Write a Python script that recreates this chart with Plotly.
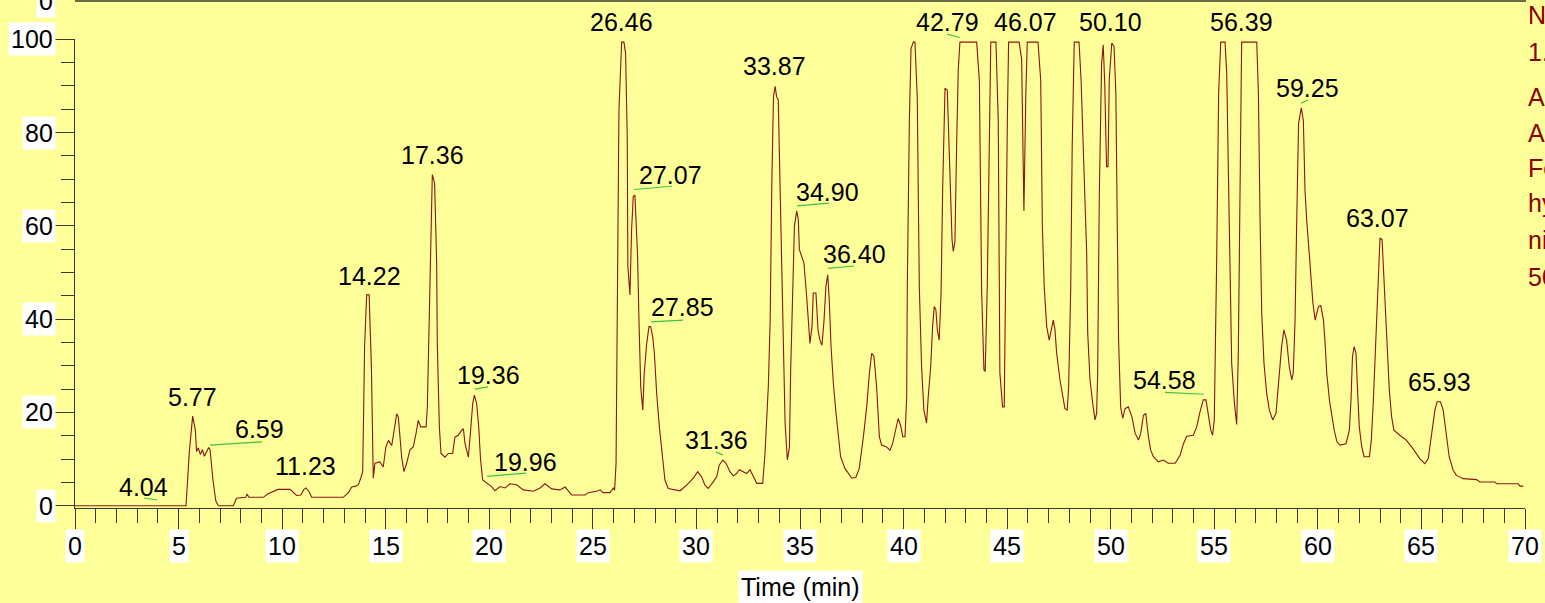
import plotly.graph_objects as go

# ---------------- data ----------------
time_min = [
    0, 5.36, 5.52, 5.68, 5.81, 5.87, 5.95, 6.05, 6.15, 6.25, 6.35, 6.45, 6.52, 6.66, 6.80, 6.92,
    7.64, 7.80, 8.25, 8.30, 8.40, 9.09, 9.30, 9.60, 9.80, 10.38, 10.55, 10.70, 10.90, 11.05, 11.15,
    11.30, 11.43, 12.95, 13.20, 13.36, 13.55, 13.68, 13.80, 13.89, 13.98, 14.08, 14.20, 14.31, 14.40,
    14.48, 14.72, 14.88, 15.01, 15.13, 15.29, 15.37, 15.53, 15.61, 15.69, 15.77, 15.88, 16.01, 16.17,
    16.33, 16.46, 16.57, 16.69, 16.95, 17.01, 17.07, 17.17, 17.25, 17.36, 17.46, 17.49, 17.59, 17.67,
    17.86, 18.02, 18.23, 18.34, 18.50, 18.67, 18.75, 18.83, 18.91, 18.99, 19.10, 19.20, 19.28, 19.39,
    19.49, 19.58, 19.68, 19.87, 20.11, 20.27, 20.52, 20.76, 21.00, 21.32, 21.64, 22.13, 22.45, 22.69,
    23.01, 23.41, 23.66, 23.98, 24.62, 24.78, 25.18, 25.35, 25.50, 25.83, 25.99, 26.05, 26.12, 26.18,
    26.26, 26.39, 26.50, 26.58, 26.66, 26.69, 26.79, 26.87, 26.95, 27.03, 27.08, 27.16, 27.23, 27.31,
    27.41, 27.48, 27.60, 27.71, 27.79, 27.89, 27.97, 28.08, 28.21, 28.32, 28.48, 28.64, 29.21, 29.53,
    29.85, 30.06, 30.25, 30.41, 30.57, 30.81, 30.98, 31.10, 31.27, 31.43, 31.62, 31.78, 31.94, 32.07,
    32.26, 32.42, 32.59, 32.75, 32.91, 33.20, 33.31, 33.47, 33.56, 33.64, 33.72, 33.80, 33.87, 33.95,
    34.04, 34.12, 34.19, 34.28, 34.39, 34.49, 34.55, 34.65, 34.73, 34.84, 34.92, 34.97, 35.08, 35.19,
    35.32, 35.40, 35.48, 35.58, 35.64, 35.77, 35.87, 35.96, 36.06, 36.16, 36.25, 36.34, 36.41, 36.50,
    36.61, 36.74, 36.85, 36.96, 37.17, 37.33, 37.50, 37.70, 37.86, 38.06, 38.22, 38.35, 38.46, 38.57,
    38.70, 38.83, 38.94, 39.18, 39.34, 39.47, 39.64, 39.74, 39.86, 39.96, 40.07, 40.15, 40.18, 40.28,
    40.36, 40.47, 40.55, 40.66, 40.76, 40.87, 40.98, 41.11, 41.19, 41.31, 41.40, 41.48, 41.56, 41.63,
    41.72, 41.81, 41.89, 42.00, 42.11, 42.19, 42.27, 42.34, 42.40, 42.48, 42.56, 42.64, 42.72, 43.53,
    43.66, 43.77, 43.88, 43.94, 44.04, 44.14, 44.21, 44.46, 44.57, 44.65, 44.78, 44.86, 44.94, 45.01,
    45.07, 45.58, 45.70, 45.75, 45.81, 45.90, 45.97, 46.49, 46.62, 46.70, 46.79, 46.91, 47.03, 47.13,
    47.23, 47.31, 47.39, 47.55, 47.68, 47.79, 47.90, 47.97, 48.07, 48.14, 48.24, 48.47, 48.57, 48.71,
    48.84, 48.89, 49.00, 49.13, 49.24, 49.32, 49.37, 49.45, 49.56, 49.64, 49.71, 49.80, 49.87, 49.93,
    50.05, 50.16, 50.25, 50.32, 50.38, 50.48, 50.58, 50.69, 50.85, 51.02, 51.18, 51.34, 51.45, 51.58,
    51.69, 51.82, 51.93, 52.06, 52.30, 52.54, 52.78, 53.11, 53.35, 53.51, 53.67, 53.99, 54.15, 54.31,
    54.47, 54.60, 54.71, 54.83, 54.92, 55.00, 55.12, 55.21, 55.31, 55.52, 55.60, 55.68, 55.76, 55.84,
    55.97, 56.08, 56.16, 56.24, 56.32, 57.05, 57.13, 57.21, 57.29, 57.40, 57.53, 57.66, 57.82, 57.98,
    58.14, 58.25, 58.36, 58.49, 58.62, 58.74, 58.81, 58.90, 58.98, 59.07, 59.20, 59.30, 59.38, 59.46,
    59.61, 59.76, 59.87, 60.03, 60.14, 60.27, 60.35, 60.43, 60.56, 60.68, 60.79, 60.92, 61.07, 61.36,
    61.52, 61.60, 61.67, 61.75, 61.84, 61.91, 62.00, 62.12, 62.23, 62.49, 62.58, 62.68, 62.81, 62.92,
    63.00, 63.10, 63.16, 63.24, 63.35, 63.45, 63.56, 63.67, 63.96, 64.28, 64.60, 64.92, 65.16, 65.33,
    65.54, 65.65, 65.76, 65.92, 66.05, 66.18, 66.34, 66.53, 66.69, 67.02, 67.66, 67.82, 68.55, 68.63,
    69.67, 69.76, 69.92,
]
rel_abundance = [
    0, 0, 11.6, 19.2, 16.2, 11.6, 12.4, 11.0, 12.0, 10.6, 11.5, 12.5, 12.0, 5.5, 1.0, 0,
    0, 1.6, 1.8, 2.5, 1.8, 1.8, 2.5, 3.0, 3.5, 3.5, 2.8, 2.2, 2.3, 3.5, 3.8,
    3.0, 1.8, 1.8, 2.8, 4.0, 4.2, 4.5, 6.0, 7.3, 34.1, 45.2, 45.2, 29.5, 5.9,
    9.1, 9.4, 8.3, 12.6, 14.0, 12.9, 15.4, 19.7, 19.0, 15.4, 10.4, 7.3, 9.1, 12.0,
    12.6, 15.4, 18.3, 16.9, 16.9, 21.2, 35.5, 57.0, 71.0, 69.2, 52.0, 34.8, 16.9, 11.2,
    10.4, 11.2, 11.2, 14.7, 15.1, 16.2, 16.5, 13.3, 11.5, 10.4, 16.2, 21.9, 23.7, 21.9,
    16.9, 9.8, 5.5, 4.8, 4.1, 3.2, 4.1, 3.8, 4.7, 4.5, 3.4, 3.1, 3.8, 4.7,
    3.6, 3.4, 4.0, 2.3, 2.3, 2.8, 3.1, 3.4, 2.8, 2.8, 3.8, 3.3, 9.1, 42.0,
    84.9, 99.4, 99.4, 97.0, 79.2, 51.3, 45.2, 59.1, 66.3, 66.6, 61.3, 53.4, 39.1, 25.5,
    20.5, 28.4, 34.8, 38.4, 38.4, 36.2, 32.7, 24.1, 16.9, 11.9, 5.5, 3.7, 3.2, 4.4,
    5.9, 7.3, 6.2, 4.4, 3.7, 5.1, 6.2, 8.7, 9.8, 9.1, 7.3, 6.4, 6.9, 7.7,
    7.3, 6.9, 7.7, 6.2, 4.8, 4.8, 11.2, 25.5, 39.8, 69.2, 87.7, 89.9, 87.7, 87.0,
    68.4, 48.5, 31.3, 17.7, 9.8, 12.6, 29.1, 49.9, 59.9, 63.2, 61.3, 54.9, 53.4, 52.0,
    44.9, 39.8, 34.8, 38.4, 45.6, 45.6, 37.7, 35.5, 34.4, 39.8, 47.0, 49.5, 44.2, 34.1,
    26.2, 19.8, 14.8, 10.5, 8.0, 6.9, 5.9, 6.1, 8.0, 14.8, 21.2, 28.4, 32.7, 32.0,
    25.5, 14.8, 13.0, 12.6, 11.9, 13.3, 17.2, 18.7, 17.2, 14.8, 14.8, 23.3, 46.9, 82.6,
    98.0, 99.4, 99.4, 87.7, 46.9, 29.8, 20.5, 17.7, 23.3, 29.8, 38.4, 42.7, 42.0, 37.7,
    35.5, 45.6, 68.4, 89.5, 89.1, 79.2, 66.3, 57.0, 54.5, 56.6, 77.0, 93.5, 99.4, 99.4,
    91.0, 45.6, 29.1, 28.8, 46.9, 82.6, 99.4, 99.4, 82.6, 28.4, 21.2, 21.2, 59.1, 82.6,
    99.4, 99.4, 95.7, 80.6, 63.2, 87.7, 99.4, 99.4, 91.3, 59.9, 46.9, 38.4, 35.5, 37.7,
    39.8, 37.7, 32.7, 27.0, 23.3, 20.8, 20.5, 25.5, 46.9, 77.0, 99.4, 99.4, 91.3, 74.1,
    54.1, 37.0, 27.0, 22.0, 18.4, 19.8, 28.4, 66.9, 94.8, 98.8, 90.6, 72.7, 72.7, 91.3,
    99.2, 98.5, 88.4, 58.4, 35.5, 21.2, 18.7, 20.8, 21.2, 19.1, 15.5, 14.1, 15.5, 19.4,
    19.8, 14.8, 11.9, 10.5, 9.4, 9.8, 9.1, 9.1, 10.8, 13.3, 14.9, 15.1, 16.9, 20.1,
    22.7, 22.7, 19.4, 16.2, 15.1, 18.4, 54.1, 88.4, 99.4, 99.4, 92.7, 70.5, 46.9, 30.5,
    22.0, 17.4, 32.7, 74.1, 99.4, 99.4, 88.4, 61.3, 41.3, 30.5, 24.1, 20.5, 18.4, 19.8,
    28.4, 34.1, 37.7, 35.5, 29.8, 27.0, 28.4, 39.8, 61.3, 82.0, 85.3, 82.6, 67.6, 61.3,
    52.5, 43.5, 39.8, 42.7, 42.9, 39.8, 34.8, 28.4, 22.6, 19.1, 16.2, 13.7, 13.0, 13.3,
    16.2, 22.6, 31.9, 34.1, 32.7, 25.5, 16.9, 12.6, 10.5, 10.5, 14.0, 22.6, 36.9, 49.1,
    57.4, 57.0, 52.0, 42.7, 33.4, 24.8, 19.1, 16.2, 15.1, 14.0, 12.2, 10.1, 9.0, 10.1,
    16.9, 20.5, 22.3, 22.3, 20.5, 15.5, 10.5, 7.6, 6.5, 5.8, 5.6, 5.1, 5.1, 4.7,
    4.7, 4.2, 4.2,
]

# peak labels (retention times as printed)
peak_labels = ["4.04", "5.77", "6.59", "11.23", "14.22", "17.36", "19.36", "19.96", "26.46",
               "27.07", "27.85", "31.36", "33.87", "34.90", "36.40", "42.79", "46.07", "50.10",
               "54.58", "56.39", "59.25", "63.07", "65.93"]

x_ticks = list(range(0, 71, 5))
y_ticks = list(range(0, 101, 20))
side_text = ["N", "1.", "Ar", "Ar", "Fe", "hy", "ni", "50"]

# ---------------- layout helpers ----------------
W, H = 1545, 603
ML, MR, MT, MB = 75, 20, 39, 95
X0, X1 = 0, 70
Y0, Y1 = -0.49, 100.07
PH = H - MT - MB


def py2paper(p):
    return (H - MB - p) / PH


def px2paper(p):
    return (p - ML) / (W - ML - MR)


def v2paper(v):
    return (v - Y0) / (Y1 - Y0)


FONT = "Liberation Sans, Arial, Helvetica, sans-serif"
TRACE = "#8B1414"
AXIS = "#3a3a2a"
GREEN = "#3cc04a"
BG = "#FFFF99"

# label placement (text centre in data units) and leader-line ends
label_pos = [
    (3.31, 4.0), (5.65, 23.3), (8.93, 16.4), (11.15, 8.5), (14.24, 49.2), (17.28, 75.2),
    (19.94, 28.0), (21.77, 9.4), (26.36, 103.8), (28.77, 70.9), (29.31, 42.6), (30.95, 14.1),
    (33.79, 94.3), (36.35, 67.3), (37.61, 53.9), (42.10, 103.8), (45.91, 103.8), (50.01, 103.8),
    (52.62, 26.9), (56.29, 103.8), (59.48, 89.6), (62.90, 61.7), (65.89, 26.5),
]
leaders = [
    ((3.33, 1.65), (3.96, 1.22)),
    ((6.52, 13.0), (9.03, 13.7)),
    ((19.31, 25.0), (19.94, 25.5)),
    ((19.89, 6.3), (21.77, 7.0)),
    ((26.99, 67.8), (28.82, 68.5)),
    ((27.81, 39.4), (29.35, 39.8)),
    ((30.95, 11.5), (31.28, 10.9)),
    ((34.86, 64.3), (36.40, 64.9)),
    ((36.35, 50.9), (37.61, 51.4)),
    ((42.10, 101.1), (42.72, 100.4)),
    ((52.62, 24.3), (54.50, 23.9)),
    ((59.19, 86.3), (59.52, 87.0)),
]

fig = go.Figure()
fig.add_trace(go.Scatter(x=time_min, y=rel_abundance, mode="lines",
                         line=dict(color=TRACE, width=1.1), hoverinfo="x+y",
                         showlegend=False))

annotations = []
for txt, (lx, ly) in zip(peak_labels, label_pos):
    annotations.append(dict(x=lx, xref="x", y=v2paper(ly), yref="paper", text=txt,
                            showarrow=False, xanchor="center", yanchor="middle",
                            font=dict(family=FONT, size=25, color="black")))

for t in x_ticks:
    annotations.append(dict(x=t, xref="x", y=py2paper(546), yref="paper", text=str(t),
                            showarrow=False, xanchor="center", yanchor="middle",
                            bgcolor="white", borderpad=2,
                            font=dict(family=FONT, size=25, color="black")))
for v in y_ticks:
    annotations.append(dict(x=px2paper(56), xref="paper", y=v2paper(v), yref="paper",
                            text=str(v), showarrow=False, xanchor="right", yanchor="middle",
                            bgcolor="white", borderpad=2,
                            font=dict(family=FONT, size=25, color="black")))
# cut-off label of a panel above
annotations.append(dict(x=px2paper(56), xref="paper", y=py2paper(0.5), yref="paper",
                        text="0", showarrow=False, xanchor="right", yanchor="middle",
                        bgcolor="white", borderpad=2,
                        font=dict(family=FONT, size=25, color="black")))
# axis title
annotations.append(dict(x=0.5, xref="paper", y=py2paper(587), yref="paper",
                        text="Time (min)", showarrow=False, xanchor="center",
                        yanchor="middle", bgcolor="white", borderpad=2,
                        font=dict(family=FONT, size=25, color="black")))
# side info text (truncated at window edge, as in the reference)
side_y = [15, 52, 97, 133, 168, 203, 240, 277]
for s, yy in zip(side_text, side_y):
    annotations.append(dict(x=px2paper(1526), xref="paper", y=py2paper(yy), yref="paper",
                            text=s, showarrow=False, xanchor="left", yanchor="middle",
                            font=dict(family=FONT, size=25, color="#8B0000")))

shapes = []
for (a, b) in leaders:
    shapes.append(dict(type="line", xref="x", yref="paper", x0=a[0], y0=v2paper(a[1]),
                       x1=b[0], y1=v2paper(b[1]), line=dict(color=GREEN, width=1.2)))
# top frame line
shapes.append(dict(type="line", xref="paper", yref="paper", x0=0, x1=px2paper(1526),
                   y0=py2paper(1), y1=py2paper(1), line=dict(color=AXIS, width=1.5)))

fig.update_layout(
    width=W, height=H,
    margin=dict(l=ML, r=MR, t=MT, b=MB, pad=0),
    paper_bgcolor=BG, plot_bgcolor=BG,
    showlegend=False,
    annotations=annotations,
    shapes=shapes,
    xaxis=dict(range=[X0, X1], showgrid=False, zeroline=False, showline=True,
               linecolor=AXIS, linewidth=1.2, ticks="outside", tickvals=x_ticks,
               ticklen=20, tickwidth=1.2, tickcolor=AXIS, showticklabels=False,
               minor=dict(dtick=1, tick0=0, ticks="outside", ticklen=14,
                          tickwidth=1.2, tickcolor=AXIS, showgrid=False)),
    yaxis=dict(range=[Y0, Y1], showgrid=False, zeroline=False, showline=True,
               linecolor=AXIS, linewidth=1.2, ticks="outside", tickvals=y_ticks,
               ticklen=19, tickwidth=1.2, tickcolor=AXIS, showticklabels=False,
               minor=dict(dtick=5, tick0=0, ticks="outside", ticklen=13,
                          tickwidth=1.2, tickcolor=AXIS, showgrid=False)),
)

fig.write_html("out.html", config={"displayModeBar": False},
               post_script="document.body.style.margin='0';document.body.style.overflow='hidden';document.body.style.background='#FFFF99';")
